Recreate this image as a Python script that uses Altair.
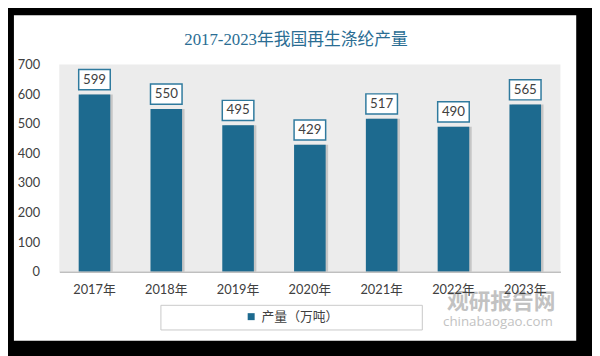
import altair as alt
import pandas as pd

years = ["2017年", "2018年", "2019年", "2020年", "2021年", "2022年", "2023年"]
values = [599, 550, 495, 429, 517, 490, 565]
series_name = "产量（万吨）"
title_text = "2017-2023年我国再生涤纶产量"
y_ticks = [0, 100, 200, 300, 400, 500, 600, 700]

df = pd.DataFrame({"year": years, "value": values, "series": [series_name] * len(years)})
one = pd.DataFrame({"a": [0]})

W, H = 508, 210
BAR = "#1d6a8f"
FONT = "Lato, Noto Sans CJK SC"

x_enc = alt.X("year:N", sort=years, title=None,
              scale=alt.Scale(paddingInner=0.56, paddingOuter=0.27),
              axis=alt.Axis(labelAngle=0, ticks=False, domainColor="#bfbfbf", domainWidth=1.5,
                            labelPadding=12, labelFontSize=13, labelColor="#404040",
                            labelFont=FONT, zindex=1))
y_enc = alt.Y("value:Q", title=None,
              scale=alt.Scale(domain=[0, 700], nice=False),
              axis=alt.Axis(values=y_ticks, domain=False, ticks=False, grid=False,
                            labelPadding=20, labelFontSize=13, labelColor="#404040",
                            labelFont=FONT, zindex=1))

panel = alt.Chart(one).mark_rect(fill="white").encode(
    x=alt.value(-46), x2=alt.value(524), y=alt.value(-50), y2=alt.value(280))
plotbg = alt.Chart(one).mark_rect(fill="#ececec").encode(
    x=alt.value(0), x2=alt.value(W), y=alt.value(0), y2=alt.value(H))
legbox = alt.Chart(one).mark_rect(fill="white", stroke="#c8c8c8", strokeWidth=1).encode(
    x=alt.value(103), x2=alt.value(368), y=alt.value(244), y2=alt.value(269))
title = alt.Chart(one).mark_text(text=title_text, font="Liberation Serif, Noto Sans CJK SC",
                                 fontSize=17, color="#2a6d93", align="center",
                                 baseline="middle").encode(
    x=alt.value(240), y=alt.value(-25))

base = alt.Chart(df)
shadow = base.mark_bar(color="#9a9a9a", opacity=0.45, xOffset=2.5).encode(x=x_enc, y=y_enc)
bars = base.mark_bar().encode(
    x=x_enc, y=y_enc,
    color=alt.Color("series:N", title=None,
                    scale=alt.Scale(range=[BAR]),
                    legend=alt.Legend(orient="none", legendX=188, legendY=249,
                                      symbolType="square", symbolSize=50,
                                      labelFontSize=13, labelColor="#404040",
                                      labelFont=FONT, padding=0)))
boxes = base.mark_point(
    shape="M-1,-0.64L1,-0.64L1,0.64L-1,0.64Z", size=1024, filled=True,
    fill="white", stroke="#2f7a9e", strokeWidth=1.5, opacity=1, yOffset=-15
).encode(x=x_enc, y=y_enc)
labels = base.mark_text(fontSize=13.5, color="#404040", font=FONT, yOffset=-15,
                        baseline="middle").encode(
    x=x_enc, y=y_enc, text=alt.Text("value:Q"))

wm1 = alt.Chart(one).mark_text(text="观研报告网", fontSize=22, fontWeight="bold",
                               color="#9a9a9a", opacity=0.6, font="Noto Sans CJK SC",
                               align="left", baseline="middle").encode(
    x=alt.value(393), y=alt.value(241))
wm2 = alt.Chart(one).mark_text(text="chinabaogao.com", fontSize=13.5,
                               color="#9a9a9a", opacity=0.6, font="Open Sans",
                               align="left", baseline="middle").encode(
    x=alt.value(389), y=alt.value(261))

chart = alt.layer(panel, plotbg, legbox, title, shadow, bars, boxes, labels, wm1, wm2).properties(
    width=W, height=H,
    autosize=alt.AutoSizeParams(type="none"),
    padding={"left": 52, "top": 55, "right": 32, "bottom": 83},
    background="black",
).configure_view(stroke=None)

chart.save("out.html", embed_options={"renderer": "svg", "actions": False})
